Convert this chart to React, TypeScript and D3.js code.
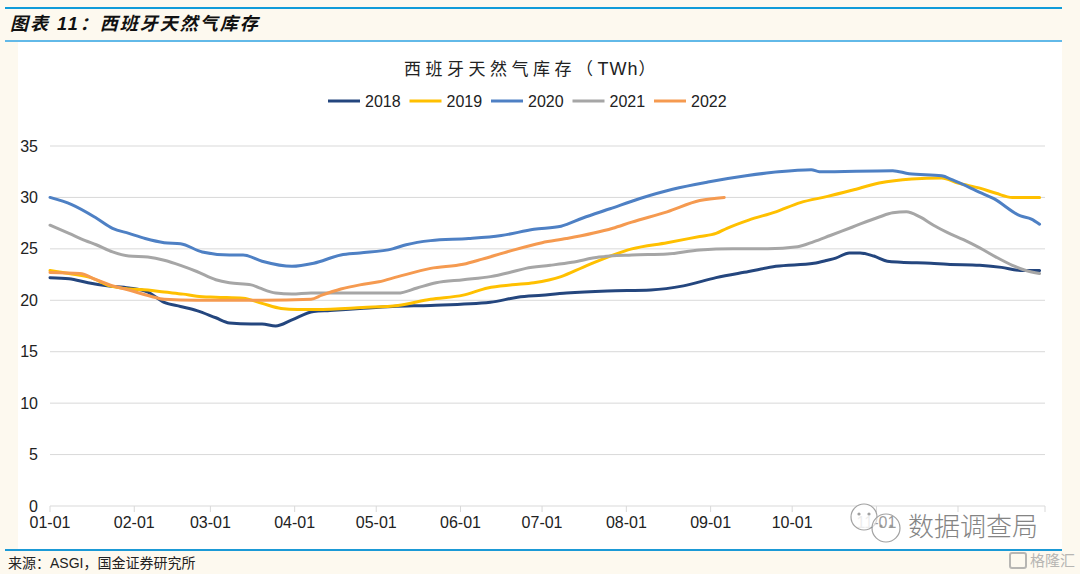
import React from 'react';
import * as d3 from 'd3';

// Spain gas storage, TWh (MM-DD, value)
const y2018: [string, number][] = [
  ['01-01', 22.2], ['01-08', 22.1], ['01-15', 21.7], ['01-22', 21.4], ['01-30', 21.2],
  ['02-06', 20.8], ['02-12', 19.8], ['02-18', 19.4], ['02-24', 19.0], ['03-03', 18.3],
  ['03-08', 17.8], ['03-16', 17.7], ['03-20', 17.7], ['03-25', 17.5], ['03-31', 18.1],
  ['04-08', 18.9], ['04-14', 19.0], ['04-25', 19.2], ['05-07', 19.4], ['05-21', 19.5],
  ['06-12', 19.8], ['06-22', 20.3], ['07-01', 20.5], ['07-10', 20.7], ['07-25', 20.9],
  ['08-10', 21.0], ['08-22', 21.4], ['09-03', 22.2], ['09-15', 22.8], ['09-25', 23.3],
  ['10-09', 23.6], ['10-14', 23.9], ['10-17', 24.1], ['10-22', 24.6], ['10-26', 24.6],
  ['10-31', 24.3], ['11-05', 23.8], ['11-10', 23.7], ['11-21', 23.6], ['11-27', 23.5],
  ['12-09', 23.4], ['12-17', 23.2], ['12-24', 22.9], ['12-31', 22.9],
];

const y2019: [string, number][] = [
  ['01-01', 22.9], ['01-08', 22.6], ['01-16', 22.2], ['01-23', 21.4], ['01-30', 21.1],
  ['02-06', 21.0], ['02-12', 20.8], ['02-19', 20.6], ['02-24', 20.4], ['03-03', 20.3],
  ['03-13', 20.2], ['03-20', 19.7], ['03-27', 19.2], ['04-02', 19.1], ['04-09', 19.1],
  ['04-26', 19.3], ['05-09', 19.5], ['05-21', 20.1], ['06-02', 20.5], ['06-11', 21.2],
  ['06-20', 21.5], ['06-28', 21.7], ['07-08', 22.3], ['07-16', 23.2], ['07-26', 24.3],
  ['08-03', 25.0], ['08-16', 25.6], ['08-28', 26.2], ['09-03', 26.5], ['09-07', 27.0],
  ['09-15', 27.8], ['09-25', 28.6], ['10-04', 29.5], ['10-14', 30.1], ['10-23', 30.7],
  ['11-02', 31.4], ['11-14', 31.8], ['11-25', 31.9], ['12-01', 31.4], ['12-09', 30.9],
  ['12-15', 30.4], ['12-21', 30.0], ['12-31', 30.0],
];

const y2020: [string, number][] = [
  ['01-01', 30.0], ['01-09', 29.3], ['01-18', 28.0], ['01-24', 27.0], ['01-30', 26.5],
  ['02-05', 26.0], ['02-12', 25.6], ['02-18', 25.5], ['02-26', 24.7], ['03-08', 24.4],
  ['03-13', 24.4], ['03-20', 23.8], ['03-31', 23.3], ['04-08', 23.6], ['04-18', 24.4],
  ['04-25', 24.6], ['05-07', 25.0], ['05-12', 25.4], ['05-21', 25.8], ['06-04', 26.0],
  ['06-16', 26.3], ['06-28', 26.9], ['07-08', 27.2], ['07-16', 28.0], ['07-26', 28.9],
  ['08-06', 29.9], ['08-18', 30.8], ['08-31', 31.5], ['09-14', 32.1], ['09-26', 32.5],
  ['10-08', 32.7], ['10-11', 32.5], ['11-07', 32.6], ['11-13', 32.3], ['11-25', 32.1],
  ['11-29', 31.7], ['12-09', 30.5], ['12-14', 29.9], ['12-24', 28.2], ['12-28', 27.9],
  ['12-31', 27.4],
];

const y2021: [string, number][] = [
  ['01-01', 27.3], ['01-08', 26.5], ['01-14', 25.8], ['01-18', 25.4], ['01-24', 24.7],
  ['01-30', 24.3], ['02-06', 24.2], ['02-12', 23.9], ['02-18', 23.4], ['02-24', 22.8],
  ['03-03', 22.0], ['03-08', 21.7], ['03-16', 21.5], ['03-19', 21.2], ['03-25', 20.7],
  ['03-31', 20.6], ['04-07', 20.7], ['04-25', 20.7], ['05-09', 20.7], ['05-16', 21.2],
  ['05-23', 21.7], ['06-02', 22.0], ['06-12', 22.3], ['06-19', 22.7], ['06-25', 23.1],
  ['07-04', 23.4], ['07-12', 23.7], ['07-22', 24.2], ['08-03', 24.4], ['08-16', 24.5],
  ['08-28', 24.9], ['09-09', 25.0], ['09-22', 25.0], ['10-03', 25.2], ['10-09', 25.7],
  ['10-15', 26.3], ['10-23', 27.1], ['11-02', 28.1], ['11-07', 28.5], ['11-12', 28.6],
  ['11-17', 28.1], ['11-22', 27.3], ['11-27', 26.6], ['12-03', 25.9], ['12-09', 25.1],
  ['12-15', 24.2], ['12-21', 23.4], ['12-26', 22.9], ['12-31', 22.6],
];

const y2022: [string, number][] = [
  ['01-01', 22.7], ['01-12', 22.6], ['01-18', 22.0], ['01-23', 21.5], ['01-30', 21.0],
  ['02-07', 20.4], ['02-12', 20.1], ['02-24', 20.0], ['03-08', 20.0], ['03-20', 20.0],
  ['04-07', 20.1], ['04-11', 20.5], ['04-18', 21.1], ['04-25', 21.5], ['05-02', 21.8],
  ['05-09', 22.3], ['05-21', 23.1], ['06-02', 23.5], ['06-09', 24.0], ['06-18', 24.7],
  ['07-01', 25.6], ['07-10', 26.0], ['07-27', 27.0], ['08-03', 27.6], ['08-16', 28.6],
  ['08-28', 29.7], ['09-06', 30.0],
];

const seriesNames = ['2018', '2019', '2020', '2021', '2022'];
const seriesColors = ['#24467e', '#ffc000', '#4e80c4', '#a6a6a6', '#f59a50'];
const seriesData = [y2018, y2019, y2020, y2021, y2022];

// month ticks; the 12-01 label sits under the watermark in the reference, so only 01..11 are labelled
const xTickDates = ['01-01', '02-01', '03-01', '04-01', '05-01', '06-01', '07-01', '08-01', '09-01', '10-01', '11-01', '12-01'];
const xTickLabels = ['01-01', '02-01', '03-01', '04-01', '05-01', '06-01', '07-01', '08-01', '09-01', '10-01', '11-01'];
const yTicks = [0, 5, 10, 15, 20, 25, 30, 35];

const W = 1080;
const H = 574;
const latin = "'Liberation Sans', Arial, 'Noto Sans CJK SC', sans-serif";
const cjk = "'Noto Sans CJK SC', 'Liberation Sans', sans-serif";

const parse = (s: string) => d3.timeParse('%Y-%m-%d')(`2021-${s}`) as Date;

export default function App() {
  const x = d3.scaleTime().domain([new Date(2021, 0, 1), new Date(2022, 0, 2)]).range([50, 1045]);
  const y = d3.scaleLinear().domain([0, 35]).range([506, 146]);

  const line = d3
    .line<[string, number]>()
    .x((d) => x(parse(d[0])))
    .y((d) => y(d[1]))
    .curve(d3.curveMonotoneX);

  return (
    <svg width={W} height={H} viewBox={`0 0 ${W} ${H}`} style={{ position: 'absolute', left: 0, top: 0, display: 'block' }}>
      <rect x={0} y={0} width={W} height={H} fill="#fdf9ef" />
      <rect x={18} y={42} width={1044} height={507} fill="#ffffff" />

      {/* header */}
      <line x1={5} x2={1062} y1={8} y2={8} stroke="#119cd9" strokeWidth={2} />
      <text x={10} y={30} fontFamily={latin} fontSize={18} fontWeight="bold" fontStyle="italic" letterSpacing={2} fill="#111">
        图表 11：西班牙天然气库存
      </text>
      <line x1={5} x2={1062} y1={41} y2={41} stroke="#62b9e8" strokeWidth={2} />

      {/* chart title */}
      <text x={532} y={75} textAnchor="middle" fontFamily={cjk} fontSize={17} letterSpacing={4.5} fill="#222">
        西班牙天然气库存（<tspan fontFamily={latin} fontSize={18} letterSpacing={1}>TWh</tspan>）
      </text>

      {/* legend */}
      {seriesNames.map((name, i) => {
        const lx = 328 + i * 81.5;
        return (
          <g key={name}>
            <line x1={lx} x2={lx + 32} y1={101} y2={101} stroke={seriesColors[i]} strokeWidth={3} />
            <text x={lx + 37} y={107} fontFamily={latin} fontSize={16} fill="#222">{name}</text>
          </g>
        );
      })}

      {/* gridlines + y labels */}
      {yTicks.map((t) => (
        <g key={t}>
          <line x1={50} x2={1045} y1={y(t)} y2={y(t)} stroke="#d9d9d9" strokeWidth={1} />
          <text x={38} y={y(t)} dy="0.35em" textAnchor="end" fontFamily={latin} fontSize={16} fill="#222">{t}</text>
        </g>
      ))}

      {/* x ticks */}
      {xTickDates.map((d) => {
        const px = x(parse(d));
        return <line key={d} x1={px} x2={px} y1={506} y2={512} stroke="#d9d9d9" strokeWidth={1} />;
      })}
      <line x1={1045} x2={1045} y1={506} y2={512} stroke="#d9d9d9" strokeWidth={1} />
      {xTickLabels.map((lab) => (
        <text key={lab} x={x(parse(lab))} y={528} textAnchor="middle" fontFamily={latin} fontSize={16} fill="#222">{lab}</text>
      ))}

      {/* series */}
      {seriesData.map((data, i) => (
        <path key={seriesNames[i]} d={line(data) || undefined} fill="none" stroke={seriesColors[i]} strokeWidth={3} strokeLinejoin="round" strokeLinecap="round" />
      ))}

      {/* watermark */}
      <g opacity={0.92}>
        <circle cx={864} cy={517} r={13} fill="#ffffff" stroke="#9a9a9a" strokeWidth={1.2} />
        <circle cx={859} cy={514} r={1.6} fill="#9a9a9a" />
        <circle cx={869} cy={514} r={1.6} fill="#9a9a9a" />
        <circle cx={886} cy={528} r={14} fill="#ffffff" fillOpacity={0.6} stroke="#9a9a9a" strokeWidth={1.2} />
        <circle cx={881} cy={526} r={1.6} fill="#9a9a9a" />
        <circle cx={891} cy={526} r={1.6} fill="#9a9a9a" />
        <text x={908} y={536} fontFamily={cjk} fontSize={26} fill="#7a7a7a" fontWeight={300}>数据调查局</text>
      </g>

      {/* footer */}
      <line x1={5} x2={1062} y1={550} y2={550} stroke="#1b9ad6" strokeWidth={2} />
      <text x={8} y={568} fontFamily={cjk} fontSize={14} fill="#222">
        来源：<tspan fontFamily={latin}>ASGI</tspan>，国金证券研究所
      </text>
      <g opacity={0.75}>
        <rect x={1010} y={553} width={16} height={15} rx={2} fill="none" stroke="#a0a0a0" strokeWidth={2} />
        <text x={1030} y={566} fontFamily={cjk} fontSize={15} fill="#a0a0a0">格隆汇</text>
      </g>
    </svg>
  );
}
